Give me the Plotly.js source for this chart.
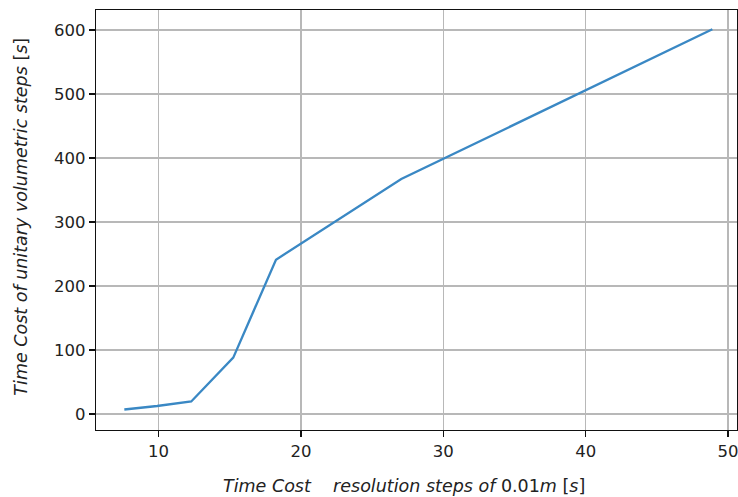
<!DOCTYPE html>
<html>
<head>
<meta charset="utf-8">
<script src="https://cdn.plot.ly/plotly-3.0.1.min.js"></script>
<style>html,body{margin:0;padding:0;background:#fff;}#chart{width:738px;height:497px;}</style>
</head>
<body>
<div id="chart"></div>
<script>
// Data
const resolutionCost = [7.6, 9.9, 12.3, 15.25, 18.25, 27.05, 48.9];
const volumetricCost = [7, 12.5, 19.5, 88, 241, 367, 601];
const xTicks = [10, 20, 30, 40, 50];
const yTicks = [0, 100, 200, 300, 400, 500, 600];

const tickFont = {family: 'DejaVu Sans', size: 16.5, color: '#222'};
const titleFont = {family: 'DejaVu Sans', size: 17.5, color: '#222'};

const trace = {
  x: resolutionCost,
  y: volumetricCost,
  type: 'scatter',
  mode: 'lines',
  line: {color: '#3a88c4', width: 2.3},
  hoverinfo: 'skip'
};

const axisCommon = {
  showline: true, mirror: true, linecolor: '#111', linewidth: 1.3,
  showgrid: true, gridcolor: '#b8b8b8', gridwidth: 1.3,
  zeroline: false,
  ticks: 'outside', ticklen: 6, tickcolor: '#111', tickwidth: 1.3,
  tickfont: tickFont,
  tickmode: 'array',
  ticklabeloverflow: 'allow'
};

const layout = {
  width: 738, height: 497,
  margin: {l: 96, r: 1, t: 10, b: 67},
  paper_bgcolor: '#fff', plot_bgcolor: '#fff',
  showlegend: false,
  font: tickFont,
  xaxis: Object.assign({}, axisCommon, {
    range: [5.61, 50.63], tickvals: xTicks, ticktext: xTicks.map(String)
  }),
  yaxis: Object.assign({}, axisCommon, {
    range: [-25, 631], tickvals: yTicks, ticktext: yTicks.map(String)
  }),
  annotations: [
    {
      text: '<i>Time Cost\u00A0\u00A0\u00A0\u00A0resolution steps of\u00A0</i>0.01<i>m</i>\u00A0[<i>s</i>]',
      xref: 'paper', yref: 'paper', x: 0.4805, y: -0.105,
      xanchor: 'center', yanchor: 'top', showarrow: false, font: titleFont
    },
    {
      text: '<i>Time Cost of unitary volumetric steps</i>\u00A0[<i>s</i>]',
      xref: 'paper', yref: 'paper', x: -0.117, y: 0.508,
      xanchor: 'center', yanchor: 'middle', textangle: -90, showarrow: false, font: titleFont
    }
  ]
};

Plotly.newPlot('chart', [trace], layout, {displayModeBar: false, staticPlot: true});
</script>
</body>
</html>
